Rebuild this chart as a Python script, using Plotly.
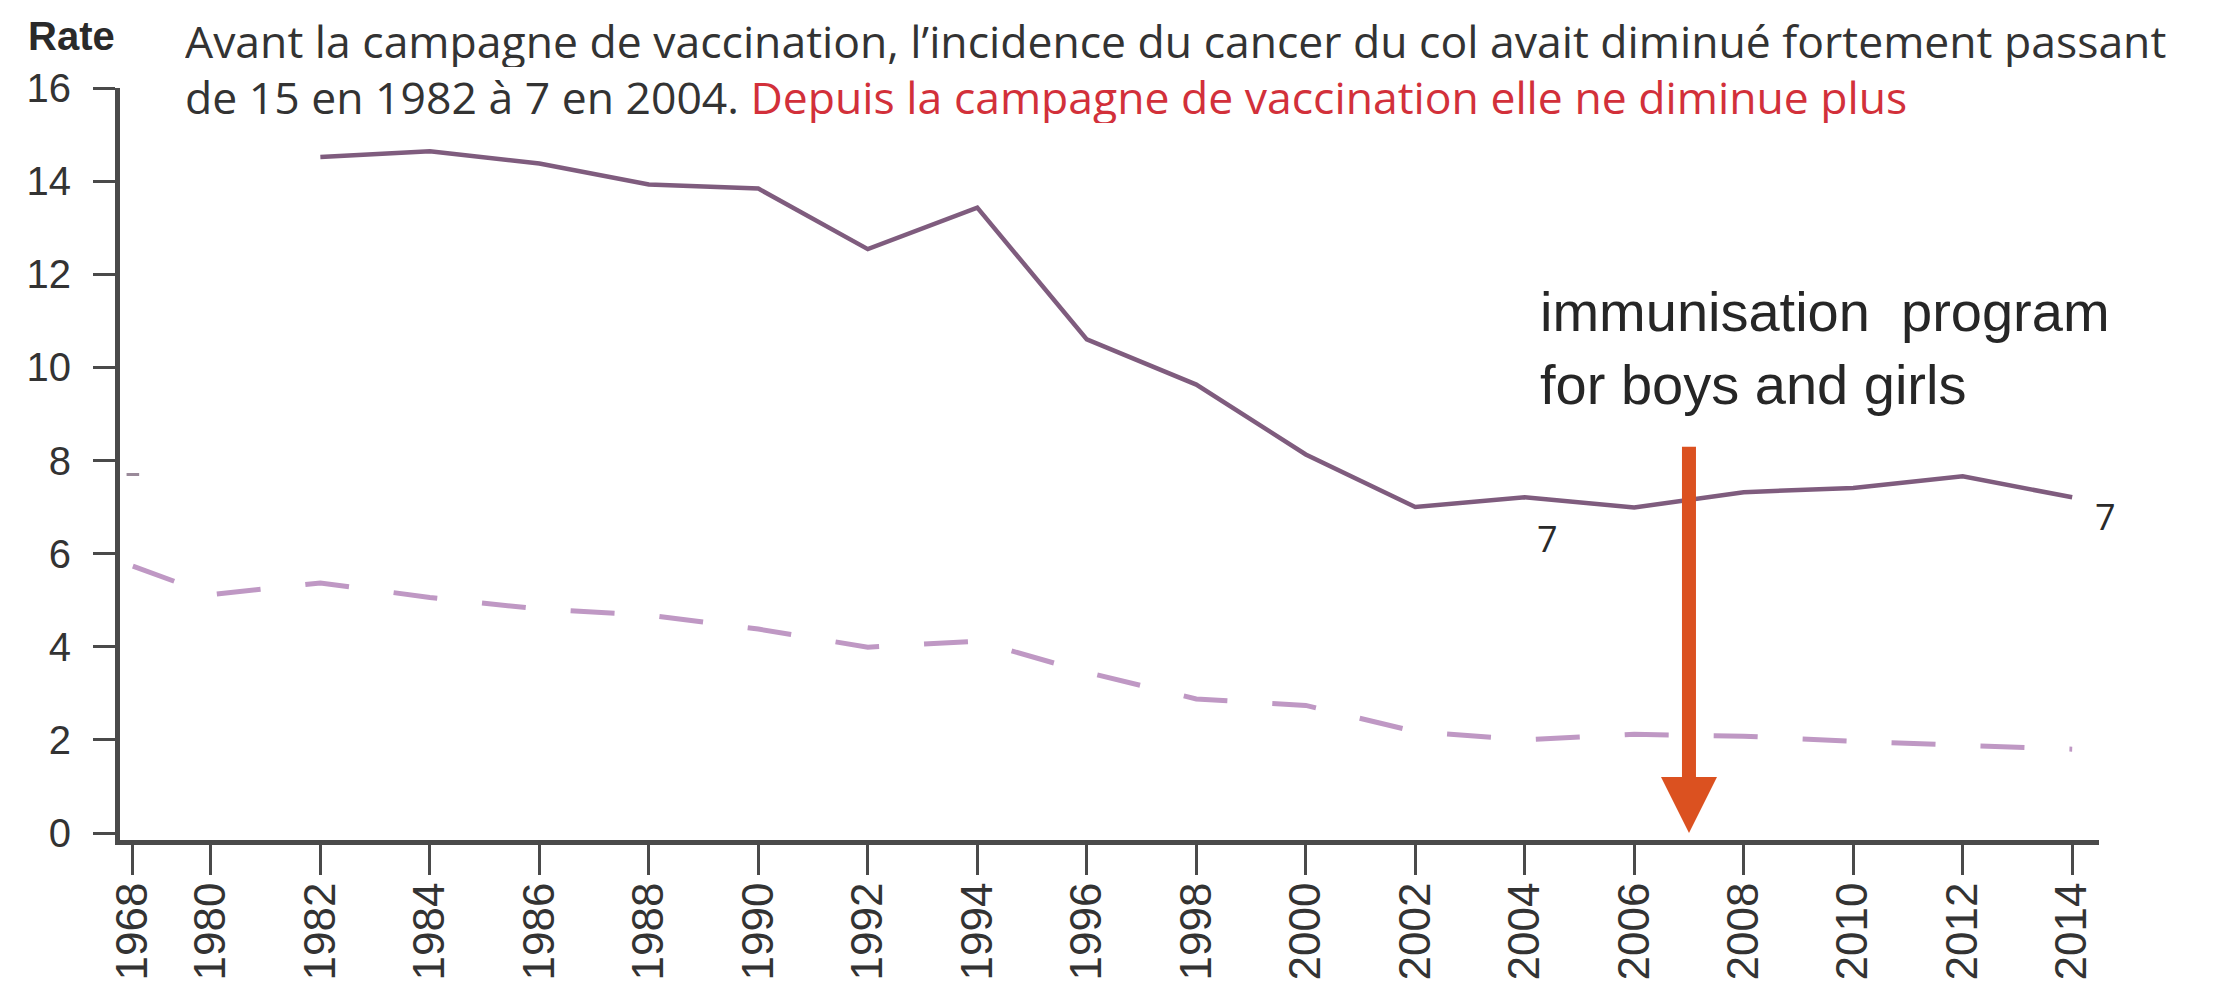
import plotly.graph_objects as go

# ---------------- data ----------------
YEARS = [1968, 1980, 1982, 1984, 1986, 1988, 1990, 1992, 1994, 1996,
         1998, 2000, 2002, 2004, 2006, 2008, 2010, 2012, 2014]
TICK_LABELS = [str(y) for y in YEARS]

# solid line (incidence)
SOLID = [7.7, None, 14.52, 14.64, 14.38, 13.93, 13.84, 12.54, 13.43, 10.6,
         9.63, 8.13, 7.00, 7.21, 6.99, 7.32, 7.41, 7.66, 7.21]
# dashed line (mortality)
DASHED = [5.73, 5.12, 5.37, 5.06, 4.81, 4.68, 4.38, 3.99, 4.12, 3.45,
          2.88, 2.74, 2.18, 2.00, 2.12, 2.08, 1.97, 1.88, 1.80]

Y_TICKS = [0, 2, 4, 6, 8, 10, 12, 14, 16]

PROGRAM_YEAR = 2007
PROGRAM_ARROW_FROM = 8.33
PROGRAM_TEXT = "immunisation  program<br>for boys and girls"

VALUE_LABEL_TEXT = "7"

TITLE_LINE1 = "Avant la campagne de vaccination, l\u2019incidence du cancer du col avait diminu\u00e9 fortement passant"
TITLE_LINE2_BLACK = "de 15 en 1982 \u00e0 7 en 2004. "
TITLE_LINE2_RED = "Depuis la campagne de vaccination elle ne diminue plus"
Y_LABEL = "Rate"

# ---------------- axis break: 1968..1980 drawn compressed ----------------
BREAK_START, BREAK_END, BREAK_WIDTH = 1968, 1980, 1.425


def axis_pos(year):
    if year >= BREAK_END:
        return year
    return BREAK_END - BREAK_WIDTH * (BREAK_END - year) / (BREAK_END - BREAK_START)


XPOS = [axis_pos(y) for y in YEARS]

# ---------------- figure geometry ----------------
W, H = 2216, 986
ML, MR, MT, MB = 112, 125, 80, 154


def px_x(px):
    return (px - ML) / (W - ML - MR)


def px_y(py):
    return (H - MB - py) / (H - MT - MB)


SOLID_COLOR = "#7f5c7e"
DASH_COLOR = "#bf98c4"
ARROW_COLOR = "#db5120"
AXIS_COLOR = "#4a4a4a"
TEXT_COLOR = "#333333"
RED = "#d2303a"

fig = go.Figure()

fig.add_trace(go.Scatter(
    x=XPOS, y=DASHED, mode="lines",
    line=dict(color=DASH_COLOR, width=5, dash="44px,45px"),
    hoverinfo="skip", showlegend=False))

fig.add_trace(go.Scatter(
    x=XPOS, y=SOLID, mode="lines",
    line=dict(color=SOLID_COLOR, width=4.5),
    connectgaps=False, hoverinfo="skip", showlegend=False))

# isolated points of the solid series (no neighbours to draw a line with)
iso_x, iso_y = [], []
for i, v in enumerate(SOLID):
    if v is None:
        continue
    prev_none = i == 0 or SOLID[i - 1] is None
    next_none = i == len(SOLID) - 1 or SOLID[i + 1] is None
    if prev_none and next_none:
        iso_x.append(XPOS[i])
        iso_y.append(v)
fig.add_trace(go.Scatter(
    x=iso_x, y=iso_y, mode="markers",
    marker=dict(symbol="line-ew", size=9, line=dict(color="#9a8a9a", width=3)),
    hoverinfo="skip", showlegend=False))

annotations = []

# arrow for the immunisation programme
annotations.append(dict(
    x=PROGRAM_YEAR, y=0, xref="x", yref="y",
    ax=PROGRAM_YEAR, ay=PROGRAM_ARROW_FROM, axref="x", ayref="y",
    text="", showarrow=True, arrowhead=2, arrowsize=0.8, arrowwidth=14,
    arrowcolor=ARROW_COLOR, standoff=0))

annotations.append(dict(
    x=px_x(1530), y=px_y(340), xref="paper", yref="paper",
    xanchor="left", yanchor="middle", align="left", showarrow=False,
    text=PROGRAM_TEXT,
    font=dict(family="Liberation Sans", size=56, color="#262626")))

# value labels "7"
annotations.append(dict(
    x=px_x(1552), y=px_y(530), xref="paper", yref="paper", showarrow=False,
    text=VALUE_LABEL_TEXT,
    font=dict(family="Open Sans", size=36, color="#2a2a2a")))
annotations.append(dict(
    x=px_x(2110), y=px_y(508), xref="paper", yref="paper", showarrow=False,
    text=VALUE_LABEL_TEXT,
    font=dict(family="Open Sans", size=36, color="#2a2a2a")))

# two-line heading, one annotation per line
annotations.append(dict(
    x=px_x(176), y=px_y(32), xref="paper", yref="paper",
    xanchor="left", yanchor="middle", align="left", showarrow=False,
    height=54, borderpad=0,
    text=TITLE_LINE1,
    font=dict(family="Open Sans", size=44.5, color=TEXT_COLOR)))
annotations.append(dict(
    x=px_x(176), y=px_y(88), xref="paper", yref="paper",
    xanchor="left", yanchor="middle", align="left", showarrow=False,
    height=54, borderpad=0,
    text=TITLE_LINE2_BLACK + "<span style='color:%s'>%s</span>" % (RED, TITLE_LINE2_RED),
    font=dict(family="Open Sans", size=44.5, color=TEXT_COLOR)))

annotations.append(dict(
    x=px_x(18), y=px_y(28), xref="paper", yref="paper",
    xanchor="left", yanchor="middle", showarrow=False,
    text="<b>%s</b>" % Y_LABEL,
    font=dict(family="Liberation Sans", size=40, color="#2a2a2a")))

fig.update_layout(
    width=W, height=H,
    margin=dict(l=ML, r=MR, t=MT, b=MB, autoexpand=False),
    paper_bgcolor="white", plot_bgcolor="white",
    annotations=annotations,
    xaxis=dict(
        range=[1978.34, 2014.49], showgrid=False, zeroline=False,
        showline=True, linecolor=AXIS_COLOR, linewidth=5,
        tickmode="array", tickvals=XPOS, ticktext=TICK_LABELS,
        ticks="outside", ticklen=30, tickwidth=3, tickcolor=AXIS_COLOR,
        tickangle=-90, ticklabelstandoff=-10,
        tickfont=dict(family="Liberation Sans", size=44, color=TEXT_COLOR)),
    yaxis=dict(
        range=[-0.15, 16], showgrid=False, zeroline=False,
        showline=True, linecolor=AXIS_COLOR, linewidth=5,
        tickmode="array", tickvals=Y_TICKS,
        ticks="outside", ticklen=22, tickwidth=3, tickcolor=AXIS_COLOR,
        ticklabelstandoff=14,
        tickfont=dict(family="Liberation Sans", size=40, color=TEXT_COLOR)),
)

fig.write_html("out.html")
